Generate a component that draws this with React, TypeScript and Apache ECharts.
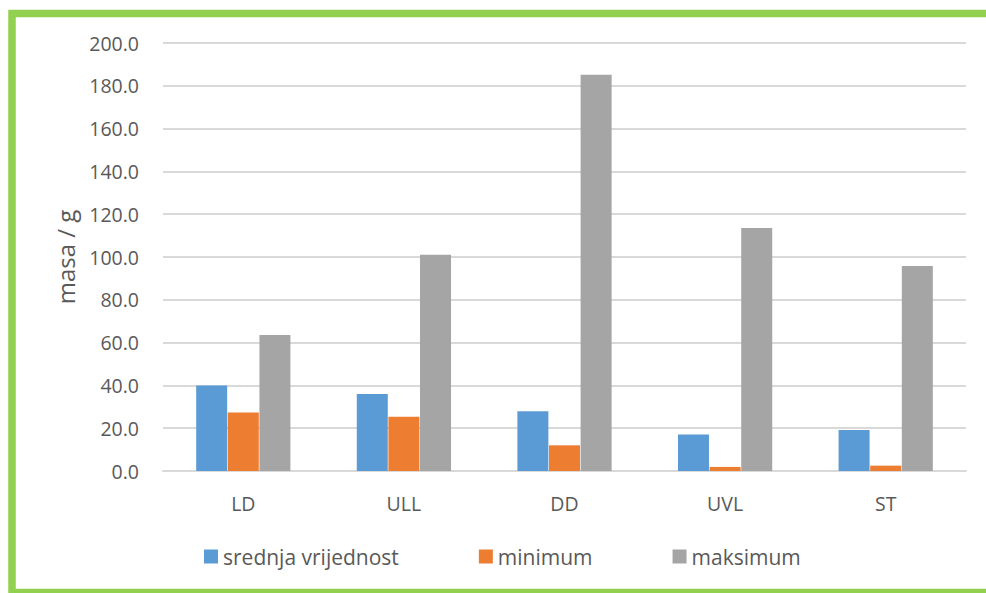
import React, { useEffect, useRef } from "react";
import * as echarts from "echarts";

const categories = ["LD", "ULL", "DD", "UVL", "ST"];
const srednja = [39.9, 36.0, 27.9, 17.1, 19.2];
const minimum = [27.3, 25.4, 12.0, 1.9, 2.5];
const maksimum = [63.5, 101.0, 185.2, 113.6, 95.8];
const seriesNames = ["srednja vrijednost", "minimum", "maksimum"];
const colors = ["#5b9bd5", "#ed7d31", "#a5a5a5"];
const yTitle = "masa / g";

const FONT = "'Open Sans', 'Noto Sans', sans-serif";
const TEXT = "#595959";

export default function App() {
  const ref = useRef<HTMLDivElement>(null);
  useEffect(() => {
    const chart = echarts.init(ref.current!, null, { renderer: "svg" });
    const data = [srednja, minimum, maksimum];
    chart.setOption({
      animation: false,
      backgroundColor: "#ffffff",
      textStyle: { fontFamily: FONT },
      grid: { left: 163, right: 20, top: 43, bottom: 122, containLabel: false },
      legend: {
        left: 199,
        top: 541,
        itemWidth: 14,
        itemHeight: 14,
        itemGap: 80,
        icon: "rect",
        textStyle: { fontSize: 21, color: TEXT, fontFamily: FONT },
        data: seriesNames,
      },
      xAxis: {
        type: "category",
        data: categories,
        axisLine: { lineStyle: { color: "#d9d9d9", width: 2 } },
        axisTick: { show: false },
        axisLabel: { color: TEXT, fontSize: 19.5, margin: 22, fontFamily: FONT },
      },
      yAxis: {
        type: "value",
        min: 0,
        max: 200,
        interval: 20,
        name: yTitle,
        nameLocation: "middle",
        nameGap: 86,
        nameRotate: 90,
        nameTextStyle: { color: TEXT, fontSize: 24, fontFamily: FONT },
        axisLine: { show: false },
        axisTick: { show: false },
        axisLabel: {
          color: TEXT,
          fontSize: 19.5,
          margin: 24,
          fontFamily: FONT,
          formatter: (v: number) => v.toFixed(1),
        },
        splitLine: { lineStyle: { color: "#d9d9d9", width: 2 } },
      },
      series: seriesNames.map((name, i) => ({
        name,
        type: "bar",
        data: data[i],
        barWidth: 31,
        barGap: "2%",
        itemStyle: { color: colors[i] },
      })),
      graphic: [
        {
          type: "rect",
          shape: { x: 12, y: 13.5, width: 1000, height: 579 },
          style: { fill: "none", stroke: "#92d050", lineWidth: 7.5 },
          z: 100,
        },
      ],
    });
    return () => chart.dispose();
  }, []);
  return (
    <div
      ref={ref}
      style={{ position: "fixed", left: 0, top: 0, width: 986, height: 593 }}
    />
  );
}
